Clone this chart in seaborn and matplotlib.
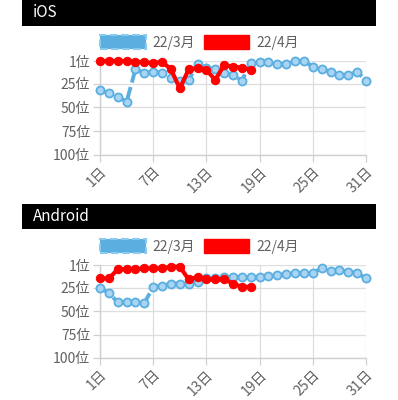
import matplotlib
matplotlib.use("Agg")
import matplotlib.pyplot as plt
from matplotlib.patches import Rectangle, Patch
import seaborn as sns
import pandas as pd

sns.set_theme(style="white")
plt.rcParams['font.family'] = ['Noto Sans CJK JP', 'DejaVu Sans']

days_mar = list(range(1, 32))
days_apr = list(range(1, 19))

ios_mar = [31.7, 35, 38.7, 44, 9.8, 13.3, 12.3, 13.3, 18.6, 22, 21, 4.5, 8.7, 9.5, 14,
           15.8, 21.7, 2.8, 1.7, 1.7, 4.2, 4.2, 1, 1, 7, 9.5, 12.3, 15.8, 15.8, 12.3, 21.7]
ios_apr = [1, 1, 1, 1, 1.7, 2.4, 3.4, 1.7, 9.8, 30, 9.8, 8.7, 10.5, 21, 5.2, 7, 8, 10.5]

and_mar = [25.2, 31, 40.5, 40.5, 40.5, 41.5, 24.3, 23, 20.7, 20.7, 20.7, 19.3, 15.3, 15.3, 14.2,
           14.2, 14.2, 14.2, 14.2, 13, 11.8, 10.7, 9.9, 9.9, 9.3, 4.5, 6.9, 6.4, 8, 9.6, 15.3]
and_apr = [15.3, 15.3, 5.6, 5.6, 5.6, 4.5, 4.5, 4.5, 2.8, 2.8, 16.4, 13.6, 16.4, 16.4, 16.4,
           20.7, 24.3, 24.3]

y_ticks = [1, 25, 50, 75, 100]
y_labels = [f"{v}位" for v in y_ticks]
x_ticks = [1, 7, 13, 19, 25, 31]
x_labels = [f"{v}日" for v in x_ticks]
series_names = ["22/3月", "22/4月"]
titles = ["iOS", "Android"]

BLUE = "#5aaee0"
BLUE_FACE = "#a9d5f2"
RED = "#ff0000"
GRID = "#dddddd"
TXT = "#606060"

W, H = 398, 400
fig = plt.figure(figsize=(W / 100, H / 100), dpi=100)
fig.patch.set_facecolor("white")


def fx(px):
    return px / W


def fy(py):
    return 1 - py / H


def panel(title, bar_top, bar_bot, ax_top, ax_bot, mar, apr):
    fig.patches.append(Rectangle((fx(22), fy(bar_bot)), fx(376) - fx(22), fy(bar_top) - fy(bar_bot),
                                 transform=fig.transFigure, facecolor="black", edgecolor="none"))
    fig.text(fx(33), (fy(bar_top) + fy(bar_bot)) / 2, title, color="white", fontsize=11,
             va="center", ha="left")
    ax = fig.add_axes([fx(100), fy(ax_bot), fx(366) - fx(100), fy(ax_top) - fy(ax_bot)])
    df_m = pd.DataFrame({"day": days_mar, "rank": mar})
    df_a = pd.DataFrame({"day": days_apr, "rank": apr})
    sns.lineplot(data=df_m, x="day", y="rank", ax=ax, color=BLUE, lw=2.8,
                 linestyle=(0, (3, 1.2)), marker="o", markersize=5.8,
                 markerfacecolor=BLUE_FACE, markeredgecolor=BLUE, markeredgewidth=1.3,
                 zorder=3, clip_on=False)
    sns.lineplot(data=df_a, x="day", y="rank", ax=ax, color=RED, lw=3.0,
                 marker="o", markersize=6, markerfacecolor=RED, markeredgecolor=RED,
                 zorder=4, clip_on=False)
    ax.set_xlim(1, 31)
    ax.set_ylim(100, 1)
    ax.set_xticks(x_ticks)
    ax.set_xticklabels(x_labels, rotation=45, ha="right", rotation_mode="anchor",
                       fontsize=10, color=TXT)
    ax.set_yticks(y_ticks)
    ax.set_yticklabels(y_labels, fontsize=10, color=TXT)
    ax.set_xlabel("")
    ax.set_ylabel("")
    ax.grid(True, color=GRID, lw=0.9)
    for s in ["top", "right"]:
        ax.spines[s].set_visible(False)
    for s in ["left", "bottom"]:
        ax.spines[s].set_color("#cfcfcf")
        ax.spines[s].set_linewidth(1.0)
    ax.tick_params(axis="both", length=5, width=0.9, color="#d0d0d0", pad=2,
                   left=True, bottom=True)
    ax.set_facecolor("white")
    handles = [Patch(facecolor=BLUE, edgecolor="#8ccbf0", linestyle="--", linewidth=1.5),
               Patch(facecolor=RED, edgecolor=RED)]
    ax.legend(handles, series_names, loc="lower left", bbox_to_anchor=(0.0, 1.12),
              ncol=2, frameon=False, fontsize=10, handlelength=3.3, handleheight=1.1,
              handletextpad=0.5, columnspacing=0.6, borderpad=0, borderaxespad=0,
              labelcolor=TXT)
    return ax


panel(titles[0], 0, 25.5, 61, 154.7, ios_mar, ios_apr)
panel(titles[1], 203.5, 229, 265, 358, and_mar, and_apr)

fig.savefig("out.png", dpi=100, facecolor="white")
